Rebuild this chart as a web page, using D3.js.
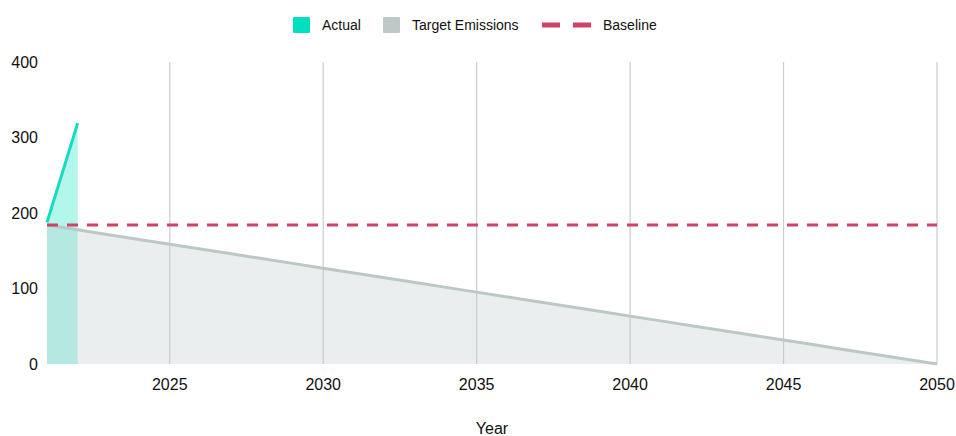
<!DOCTYPE html>
<html>
<head>
<meta charset="utf-8">
<script src="https://cdn.jsdelivr.net/npm/d3@7"></script>
<style>
  html, body { margin: 0; padding: 0; background: #fff; }
  svg { display: block; font-family: "Liberation Sans", Arial, sans-serif; }
</style>
</head>
<body>
<svg id="chart" width="956" height="436"></svg>
<script>
// Emissions data
const actualYears = [2021, 2022];
const actualValues = [187.6, 319];
const targetYears = d3.range(2021, 2051);
const targetValues = [184, 177.7, 171.3, 165, 158.6, 152.3, 146, 139.6, 133.3, 126.9,
  120.6, 114.2, 107.9, 101.5, 95.2, 88.8, 82.5, 76.1, 69.8, 63.4,
  57.1, 50.8, 44.4, 38.1, 31.7, 25.4, 19, 12.7, 6.3, 0];
const baselineValue = 184;
const xTicks = [2025, 2030, 2035, 2040, 2045, 2050];
const yTicks = [0, 100, 200, 300, 400];

const svg = d3.select("#chart");
const margin = { left: 47, right: 19, top: 62, bottom: 72 };
const W = 956, H = 436;

const x = d3.scaleLinear().domain([2021, 2050]).range([margin.left, W - margin.right]);
const y = d3.scaleLinear().domain([0, 400]).range([H - margin.bottom, margin.top]);

// vertical gridlines
svg.append("g")
  .selectAll("line")
  .data(xTicks)
  .join("line")
  .attr("x1", d => x(d)).attr("x2", d => x(d))
  .attr("y1", y(400)).attr("y2", y(0))
  .attr("stroke", "#cccccc").attr("stroke-width", 1.2);

const target = targetYears.map((yr, i) => ({ x: yr, v: targetValues[i] }));
const actual = actualYears.map((yr, i) => ({ x: yr, v: actualValues[i] }));

// actual area (underneath)
svg.append("path")
  .datum(actual)
  .attr("d", d3.area().x(d => x(d.x)).y0(y(0)).y1(d => y(d.v)))
  .attr("fill", "#00e0c0").attr("fill-opacity", 0.3);

// target area over it
svg.append("path")
  .datum(target)
  .attr("d", d3.area().x(d => x(d.x)).y0(y(0)).y1(d => y(d.v)))
  .attr("fill", "#bcc7c7").attr("fill-opacity", 0.3);

svg.append("path")
  .datum(actual)
  .attr("d", d3.line().x(d => x(d.x)).y(d => y(d.v)))
  .attr("fill", "none").attr("stroke", "#16dcbd").attr("stroke-width", 3);

svg.append("path")
  .datum(target)
  .attr("d", d3.line().x(d => x(d.x)).y(d => y(d.v)))
  .attr("fill", "none").attr("stroke", "#bcc8c6").attr("stroke-width", 3);

// baseline
svg.append("line")
  .attr("x1", x(2021)).attr("x2", x(2050))
  .attr("y1", y(baselineValue)).attr("y2", y(baselineValue))
  .attr("stroke", "#cc4466").attr("stroke-width", 3)
  .attr("stroke-dasharray", "11,9");

// y axis labels
svg.append("g")
  .selectAll("text")
  .data(yTicks)
  .join("text")
  .attr("x", 38).attr("y", d => y(d))
  .attr("dy", "0.35em")
  .attr("text-anchor", "end")
  .attr("font-size", 16).attr("fill", "#111")
  .text(d => d);

// x axis labels
svg.append("g")
  .selectAll("text")
  .data(xTicks)
  .join("text")
  .attr("x", d => x(d)).attr("y", 384)
  .attr("dy", "0.35em")
  .attr("text-anchor", "middle")
  .attr("font-size", 16).attr("fill", "#111")
  .text(d => d);

svg.append("text")
  .attr("x", (x(2021) + x(2050)) / 2).attr("y", 428)
  .attr("dy", "0.35em")
  .attr("text-anchor", "middle")
  .attr("font-size", 16).attr("fill", "#111")
  .text("Year");

// legend
const lg = svg.append("g");
lg.append("rect").attr("x", 293).attr("y", 17).attr("width", 17).attr("height", 16).attr("rx", 1).attr("fill", "#00dfc0");
lg.append("text").attr("x", 322).attr("y", 25).attr("dy", "0.35em").attr("font-size", 14).attr("fill", "#111").text("Actual");
lg.append("rect").attr("x", 383).attr("y", 17).attr("width", 17).attr("height", 16).attr("rx", 1).attr("fill", "#bdc8c7");
lg.append("text").attr("x", 412).attr("y", 25).attr("dy", "0.35em").attr("font-size", 14).attr("fill", "#111").text("Target Emissions");
lg.append("line").attr("x1", 542).attr("x2", 591).attr("y1", 25).attr("y2", 25)
  .attr("stroke", "#cc4466").attr("stroke-width", 5).attr("stroke-dasharray", "18,13");
lg.append("text").attr("x", 603).attr("y", 25).attr("dy", "0.35em").attr("font-size", 14).attr("fill", "#111").text("Baseline");
</script>
</body>
</html>
